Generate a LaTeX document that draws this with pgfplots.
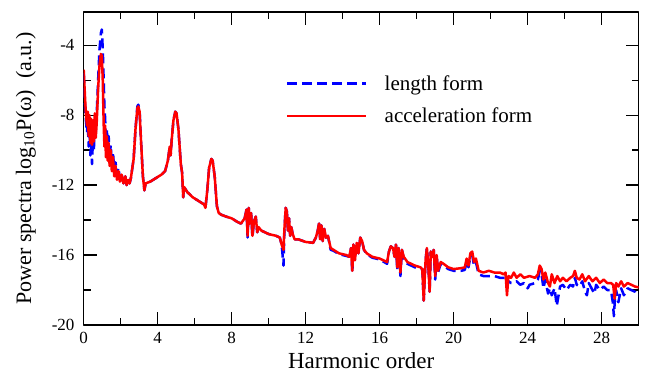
\documentclass[border=0pt]{standalone}
\usepackage{pgfplots}
\usepackage{pgfplotstable}
\pgfplotsset{compat=1.18}
\usepackage{fontspec}
\setmainfont{Liberation Serif}

\pgfplotstableread{
x y
0.00 -5.4
0.05 -6.5
0.12 -8.0
0.18 -8.6
0.22 -7.8
0.27 -9.2
0.31 -8.0
0.36 -9.6
0.40 -8.2
0.45 -9.7
0.50 -8.3
0.55 -9.5
0.60 -7.9
0.65 -9.3
0.70 -8.5
0.78 -6.5
0.85 -5.2
0.93 -4.5
0.98 -4.6
1.03 -6.0
1.08 -8.5
1.12 -9.8
1.16 -8.6
1.20 -10.4
1.25 -9.2
1.30 -10.6
1.35 -9.6
1.40 -10.9
1.46 -10.0
1.52 -11.2
1.58 -10.4
1.65 -11.5
1.72 -10.9
1.80 -11.7
1.88 -11.2
1.96 -11.8
2.05 -11.4
2.15 -11.9
2.25 -11.5
2.32 -12.0
2.40 -11.7
2.48 -11.9
2.55 -11.6
2.70 -10.5
2.80 -8.8
2.90 -7.6
2.95 -7.5
3.02 -7.8
3.10 -9.5
3.20 -11.5
3.28 -12.3
3.35 -11.9
3.60 -11.8
3.90 -11.6
4.20 -11.4
4.40 -11.2
4.55 -10.6
4.65 -9.8
4.70 -10.3
4.75 -9.5
4.85 -8.3
4.95 -7.8
5.02 -7.9
5.12 -8.8
5.25 -10.8
5.32 -11.3
5.38 -12.7
5.42 -12.1
5.60 -12.4
5.90 -12.7
6.20 -12.9
6.50 -13.1
6.58 -13.3
6.68 -12.3
6.78 -11.0
6.90 -10.5
6.97 -10.6
7.08 -11.5
7.20 -13.2
7.30 -13.6
7.45 -13.7
7.70 -13.8
8.00 -13.9
8.30 -14.1
8.50 -14.2
8.70 -13.9
8.80 -13.4
8.86 -14.9
8.92 -13.3
8.98 -14.2
9.05 -13.6
9.12 -14.9
9.20 -14.1
9.30 -13.8
9.38 -14.7
9.45 -14.4
9.60 -14.6
10.00 -14.8
10.40 -14.9
10.60 -15.0
10.70 -15.4
10.80 -15.7
10.85 -14.5
10.92 -13.3
10.98 -13.5
11.04 -14.6
11.10 -13.9
11.16 -14.9
11.22 -14.4
11.30 -14.8
11.40 -15.1
11.60 -15.1
12.00 -15.25
12.40 -15.3
12.55 -15.0
12.65 -14.6
12.72 -14.2
12.78 -15.1
12.85 -14.3
12.92 -15.2
13.00 -14.5
13.10 -15.0
13.20 -14.9
13.35 -15.6
13.50 -15.7
13.80 -15.9
14.20 -16.0
14.35 -16.1
14.45 -15.6
14.52 -16.9
14.58 -15.4
14.66 -16.3
14.76 -15.3
14.85 -15.9
14.95 -15.0
15.05 -15.2
15.15 -15.7
15.30 -15.9
15.60 -16.1
16.00 -16.2
16.40 -16.4
16.50 -15.8
16.60 -15.5
16.72 -15.6
16.80 -16.1
16.88 -15.4
16.95 -16.7
17.02 -15.6
17.12 -17.0
17.20 -15.7
17.30 -16.1
17.50 -16.4
17.90 -16.6
18.20 -16.7
18.30 -16.8
18.38 -18.6
18.48 -16.3
18.55 -15.6
18.62 -16.5
18.70 -18.1
18.76 -15.8
18.85 -16.1
18.92 -15.7
19.00 -17.2
19.08 -16.0
19.15 -16.9
19.30 -16.4
19.45 -16.5
19.70 -16.7
20.00 -16.8
20.40 -16.75
20.60 -16.7
20.70 -16.2
20.80 -16.6
20.90 -15.9
21.00 -15.8
21.10 -16.4
21.20 -16.2
21.35 -16.9
21.60 -17.0
21.90 -16.9
22.20 -17.0
22.50 -17.0
22.70 -17.1
22.80 -17.0
22.88 -18.3
22.96 -17.2
23.10 -17.3
23.25 -17.0
23.40 -17.3
23.60 -17.1
23.80 -17.3
24.10 -17.2
24.40 -17.3
24.55 -17.1
24.65 -16.6
24.75 -16.8
24.85 -17.4
24.95 -17.0
25.10 -17.6
25.20 -17.8
25.30 -17.1
25.45 -17.6
25.60 -17.2
25.75 -17.5
25.90 -17.3
26.10 -17.5
26.30 -17.3
26.45 -17.2
26.55 -16.9
26.65 -17.3
26.80 -17.4
26.95 -17.1
27.10 -17.5
27.30 -17.2
27.50 -17.5
27.70 -17.3
27.90 -17.6
28.10 -17.4
28.30 -17.6
28.50 -17.6
28.62 -17.7
28.70 -18.5
28.78 -17.6
28.90 -17.8
29.05 -17.5
29.20 -17.8
29.40 -17.6
29.60 -17.7
29.80 -17.8
30.00 -17.85
}\accel

\pgfplotstableread{
x y
0.00 -5.6
0.06 -7.2
0.12 -8.3
0.18 -9.0
0.22 -8.4
0.27 -9.8
0.31 -8.8
0.36 -10.3
0.40 -9.2
0.45 -10.8
0.50 -9.3
0.55 -10.0
0.60 -8.4
0.65 -9.0
0.70 -8.0
0.78 -6.0
0.85 -4.3
0.93 -3.3
0.98 -3.1
1.03 -4.2
1.08 -6.0
1.12 -7.5
1.16 -8.2
1.20 -9.6
1.25 -8.8
1.30 -10.0
1.35 -9.2
1.40 -10.5
1.46 -9.7
1.52 -10.8
1.58 -10.1
1.65 -11.1
1.72 -10.7
1.80 -11.4
1.88 -11.0
1.96 -11.7
2.05 -11.4
2.15 -11.9
2.25 -11.5
2.32 -12.0
2.40 -11.7
2.48 -11.9
2.55 -11.6
2.70 -10.5
2.80 -8.8
2.90 -7.5
2.95 -7.4
3.02 -7.7
3.10 -9.5
3.20 -11.5
3.28 -12.3
3.35 -11.9
3.60 -11.8
3.90 -11.6
4.20 -11.4
4.40 -11.2
4.55 -10.6
4.65 -9.8
4.70 -10.3
4.75 -9.5
4.85 -8.3
4.95 -7.8
5.02 -7.9
5.12 -8.8
5.25 -10.8
5.32 -11.3
5.38 -12.7
5.42 -12.1
5.60 -12.4
5.90 -12.7
6.20 -12.9
6.50 -13.1
6.58 -13.3
6.68 -12.3
6.78 -11.0
6.90 -10.5
6.97 -10.6
7.08 -11.5
7.20 -13.2
7.30 -13.6
7.45 -13.7
7.70 -13.8
8.00 -13.9
8.30 -14.1
8.50 -14.2
8.70 -13.9
8.80 -13.4
8.86 -15.0
8.92 -13.3
8.98 -14.2
9.05 -13.6
9.12 -15.0
9.20 -14.1
9.30 -13.8
9.38 -14.7
9.45 -14.4
9.60 -14.6
10.00 -14.8
10.40 -14.9
10.60 -15.0
10.70 -15.4
10.80 -16.6
10.85 -14.5
10.92 -13.3
10.98 -13.5
11.04 -14.6
11.10 -13.9
11.16 -14.9
11.22 -14.4
11.30 -14.8
11.40 -15.1
11.60 -15.1
12.00 -15.25
12.40 -15.3
12.55 -15.0
12.65 -14.6
12.72 -14.2
12.78 -15.1
12.85 -14.3
12.92 -15.2
13.00 -14.5
13.10 -15.0
13.20 -14.9
13.35 -15.7
13.50 -15.75
13.80 -15.95
14.20 -16.05
14.35 -16.1
14.45 -15.6
14.52 -17.0
14.58 -15.4
14.66 -16.3
14.76 -15.3
14.85 -15.9
14.95 -15.0
15.05 -15.2
15.15 -15.7
15.30 -15.95
15.60 -16.15
16.00 -16.25
16.40 -16.5
16.50 -15.8
16.60 -15.5
16.72 -15.6
16.80 -16.1
16.88 -15.4
16.95 -16.9
17.02 -15.6
17.12 -17.2
17.20 -15.7
17.30 -16.2
17.50 -16.5
17.90 -16.7
18.20 -16.8
18.30 -16.8
18.38 -18.6
18.48 -16.3
18.55 -15.6
18.62 -16.5
18.70 -18.1
18.76 -15.8
18.85 -16.1
18.92 -15.7
19.00 -17.4
19.08 -16.0
19.15 -17.0
19.30 -16.5
19.45 -16.6
19.70 -16.8
20.00 -16.9
20.40 -16.9
20.60 -16.85
20.70 -16.4
20.80 -16.7
20.90 -16.1
21.00 -16.0
21.10 -16.6
21.20 -16.4
21.35 -17.1
21.60 -17.2
21.90 -17.2
22.20 -17.2
22.50 -17.3
22.70 -17.3
22.80 -17.3
22.90 -17.7
22.96 -17.5
23.10 -17.6
23.40 -17.5
23.60 -17.7
23.80 -17.6
24.00 -17.9
24.10 -17.7
24.40 -17.6
24.55 -17.4
24.65 -16.9
24.75 -17.1
24.85 -17.9
24.95 -17.4
25.10 -18.2
25.20 -17.9
25.30 -18.3
25.45 -17.9
25.57 -18.9
25.75 -17.8
25.90 -17.7
26.10 -18.0
26.30 -17.7
26.45 -17.8
26.55 -17.3
26.65 -17.7
26.80 -17.8
26.95 -17.5
27.10 -18.1
27.20 -18.3
27.30 -17.6
27.50 -18.0
27.60 -18.2
27.70 -17.7
27.90 -18.0
28.10 -17.8
28.30 -18.0
28.50 -18.0
28.60 -18.7
28.66 -19.5
28.72 -18.4
28.78 -18.0
28.90 -18.7
29.05 -17.9
29.20 -18.3
29.40 -17.9
29.60 -18.0
29.80 -18.1
29.90 -18.3
30.00 -18.3
}\lengthform

\begin{document}
\begin{tikzpicture}
\begin{axis}[
  scale only axis,
  width=555pt, height=313pt,
  xmin=0, xmax=30, ymin=-20, ymax=-2.1,
  xtick={0,4,...,28}, ytick={-20,-16,-12,-8,-4},
  minor tick num=1,
  tick align=inside,
  major tick length=13pt, minor tick length=7pt,
  every tick/.style={black, line width=1.3pt},
  axis line style={black, line width=1.3pt},
  /pgf/number format/assume math mode=true,
  ticklabel style={font=\fontsize{17}{20}\selectfont},
  yticklabel style={inner sep=0pt, xshift=-9pt},
  xticklabel style={inner sep=0pt, yshift=-7pt},
  xlabel={Harmonic order},
  xlabel style={font=\fontsize{23}{26}\selectfont, at={(axis description cs:0.5,-0.1374)}, anchor=base},
  ylabel={Power spectra log\textsubscript{10}P(ω)\ \ (a.u.)},
  ylabel style={font=\fontsize{22}{25}\selectfont, at={(axis description cs:-0.104,0.5)}, anchor=center},
  legend style={draw=none, fill=none, font=\fontsize{21}{24}\selectfont, at={(axis description cs:0.3645,0.72)}, anchor=west, inner sep=0pt, row sep=12pt, nodes={inner sep=2pt},
    /tikz/every odd column/.append style={column sep=15pt}},
  legend cell align=left,
  legend image code/.code={\draw[#1] (0pt,0pt) -- (79pt,0pt);},
  line join=round,
]
\addplot[blue, line width=2.5pt, dash pattern=on 10pt off 5pt] table[x=x, y=y] {\lengthform};
\addlegendentry{length form}
\addplot[red, line width=2.5pt] table[x=x, y=y] {\accel};
\addlegendentry{acceleration form}
\end{axis}
\pgfresetboundingbox
\path ([shift={(-83.7pt,-48pt)}]current axis.south west) rectangle ([shift={(7.3pt,12pt)}]current axis.north east);
\end{tikzpicture}
\end{document}
